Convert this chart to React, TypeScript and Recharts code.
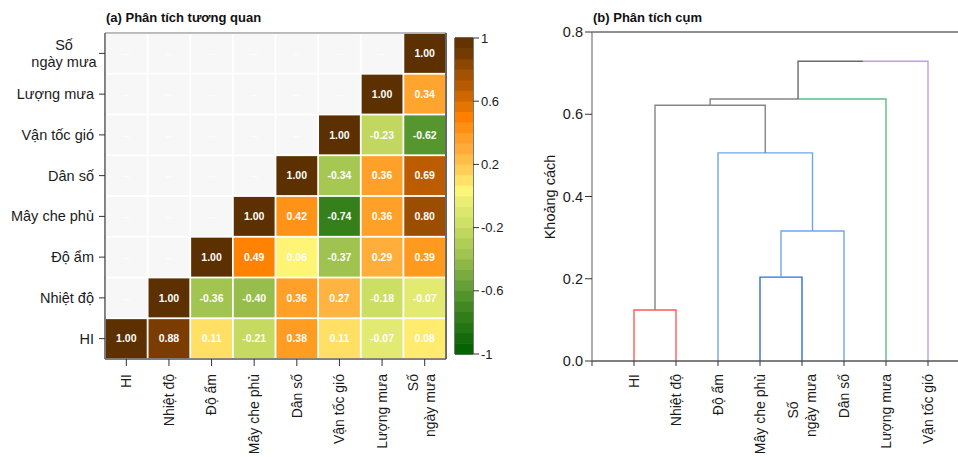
import React from "react";
import {
  ScatterChart,
  Scatter,
  LineChart,
  Line,
  XAxis,
  YAxis,
  ReferenceLine,
} from "recharts";

// variables, left -> right on x, bottom -> top on y
const variables = ["HI", "Nhiệt độ", "Độ ẩm", "Mây che phủ", "Dân số", "Vận tốc gió", "Lượng mưa", "Số\nngày mưa"];

// correlation rows (row = y variable, col = x variable); null = hidden half
const corHI = [1.0, 0.88, 0.11, -0.21, 0.38, 0.11, -0.07, 0.08];
const corNhietDo = [null, 1.0, -0.36, -0.4, 0.36, 0.27, -0.18, -0.07];
const corDoAm = [null, null, 1.0, 0.49, 0.06, -0.37, 0.29, 0.39];
const corMayChePhu = [null, null, null, 1.0, 0.42, -0.74, 0.36, 0.8];
const corDanSo = [null, null, null, null, 1.0, -0.34, 0.36, 0.69];
const corVanTocGio = [null, null, null, null, null, 1.0, -0.23, -0.62];
const corLuongMua = [null, null, null, null, null, null, 1.0, 0.34];
const corSoNgayMua = [null, null, null, null, null, null, null, 1.0];
const corRows = [corHI, corNhietDo, corDoAm, corMayChePhu, corDanSo, corVanTocGio, corLuongMua, corSoNgayMua];

const colorbarTicks = [-1, -0.6, -0.2, 0.2, 0.6, 1];

// dendrogram (hclust style: negative = leaf position, positive = merge number)
const leafLabels = ["HI", "Nhiệt độ", "Độ ẩm", "Mây che phủ", "Số\nngày mưa", "Dân số", "Lượng mưa", "Vận tốc gió"];
const mergeLeft = [-1, -4, 2, -3, 1, 5, 6];
const mergeRight = [-2, -5, -6, 3, 4, -7, -8];
const mergeHeight = [0.124, 0.204, 0.316, 0.506, 0.622, 0.637, 0.729];
const distanceTicks = [0, 0.2, 0.4, 0.6, 0.8];

// styles
const FONT = "'Liberation Sans', Arial, sans-serif";
const cmapStops: [number, string][] = [
  [-1, "#005e00"],
  [-0.74, "#36801c"],
  [-0.62, "#56962e"],
  [-0.37, "#a0c250"],
  [-0.2, "#c8dc62"],
  [-0.07, "#e2ea72"],
  [0.05, "#fff878"],
  [0.1, "#ffe266"],
  [0.2, "#ffc44e"],
  [0.3, "#ffab3a"],
  [0.38, "#ff9c22"],
  [0.5, "#ff8000"],
  [0.69, "#bb5c00"],
  [0.8, "#9c4e00"],
  [0.88, "#7a3c00"],
  [1, "#5c3000"],
];
const linkColorLeft = ["#ff5a5a", "#2d6fd6", "#6fa6ea", "#6fa6ea", "#858585", "#858585", "#6b6b6b"];
const linkColorRight = ["#ff5a5a", "#2d6fd6", "#6fa6ea", "#6fa6ea", "#858585", "#5cbf85", "#c39be9"];

function hexToRgb(h: string) {
  return [1, 3, 5].map((i) => parseInt(h.slice(i, i + 2), 16));
}
function cmap(v: number) {
  for (let i = 0; i < cmapStops.length - 1; i++) {
    const [a, ca] = cmapStops[i];
    const [b, cb] = cmapStops[i + 1];
    if (v >= a && v <= b) {
      const t = (v - a) / (b - a);
      const A = hexToRgb(ca);
      const B = hexToRgb(cb);
      const c = A.map((x, k) => Math.round(x + (B[k] - x) * t));
      return `rgb(${c[0]},${c[1]},${c[2]})`;
    }
  }
  return cmapStops[cmapStops.length - 1][1];
}

const cells = corRows.flatMap((row, r) => row.map((v, c) => ({ x: c + 1, y: r + 1, v })));

// colour bar: 30 equal bins from -1 to 1
const BINS = 30;
const colorbarBins = Array.from({ length: BINS }, (_, i) => {
  const mid = -1 + ((i + 0.5) * 2) / BINS;
  return { x: 0.5, y: mid, color: cmap(mid) };
});

// dendrogram geometry from the merge table
function nodeX(n: number): number {
  if (n < 0) return -n;
  return (nodeX(mergeLeft[n - 1]) + nodeX(mergeRight[n - 1])) / 2;
}
function nodeH(n: number): number {
  return n < 0 ? 0 : mergeHeight[n - 1];
}
const linkHalves = mergeHeight.flatMap((h, i) => {
  const l = mergeLeft[i];
  const r = mergeRight[i];
  const xl = nodeX(l);
  const xr = nodeX(r);
  const xm = (xl + xr) / 2;
  return [
    { key: `L${i}`, color: linkColorLeft[i], pts: [{ x: xl, y: nodeH(l) }, { x: xl, y: h }, { x: xm, y: h }] },
    { key: `R${i}`, color: linkColorRight[i], pts: [{ x: xm, y: h }, { x: xr, y: h }, { x: xr, y: nodeH(r) }] },
  ];
});

// layout
const PLOT_W = 341;
const PLOT_H = 326;
const cellW = PLOT_W / 8;
const cellH = PLOT_H / 8;
const BAR_W = 18;
const BAR_H = 316;

const CellShape = (props: any) => {
  const { cx, cy, payload } = props;
  const v = payload.v;
  const filled = v !== null && v !== undefined;
  return (
    <g>
      <rect
        x={cx - cellW / 2 + 0.9}
        y={cy - cellH / 2 + 0.9}
        width={cellW - 1.8}
        height={cellH - 1.8}
        fill={filled ? cmap(v) : "#f7f7f7"}
      />
      <text
        x={cx}
        y={cy}
        dy="0.35em"
        textAnchor="middle"
        fontSize={10.5}
        fontWeight="bold"
        fontFamily={FONT}
        fill={filled ? "#ffffff" : "#fdfdfd"}
      >
        {filled ? v.toFixed(2) : "--"}
      </text>
    </g>
  );
};

const BinShape = (props: any) => {
  const { cx, cy, payload } = props;
  const h = BAR_H / BINS;
  return <rect x={cx - BAR_W / 2} y={cy - h / 2 - 0.3} width={BAR_W} height={h + 0.6} fill={payload.color} />;
};

const HeatYTick = (props: any) => {
  const { x, y, payload } = props;
  const label = variables[payload.value - 1];
  if (!label) return null;
  const lines = label.split("\n");
  const common = { fontSize: 14.5, fontFamily: FONT, fill: "#1a1a1a" };
  if (lines.length === 1) {
    return (
      <text x={x - 3} y={y} dy="0.35em" textAnchor="end" {...common}>
        {label}
      </text>
    );
  }
  return (
    <g>
      <text x={x - 33} y={y - 8} dy="0.35em" textAnchor="middle" {...common}>
        {lines[0]}
      </text>
      <text x={x - 33} y={y + 9} dy="0.35em" textAnchor="middle" {...common}>
        {lines[1]}
      </text>
    </g>
  );
};

const HeatXTick = (props: any) => {
  const { x, y, payload } = props;
  const label = variables[payload.value - 1];
  if (!label) return null;
  const lines = label.split("\n");
  const common = { fontSize: 14, fontFamily: FONT, fill: "#1a1a1a", textAnchor: "end" as const };
  if (lines.length === 1) {
    return (
      <text transform={`translate(${x},${y + 6}) rotate(-90)`} dy="0.35em" {...common}>
        {label}
      </text>
    );
  }
  return (
    <g transform={`translate(${x},${y + 6}) rotate(-90)`}>
      <text x={0} y={-12} dy="0.35em" {...common}>
        {lines[0]}
      </text>
      <text x={0} y={5} dy="0.35em" {...common}>
        {lines[1]}
      </text>
    </g>
  );
};

const DendroXTick = (props: any) => {
  const { x, y, payload } = props;
  const label = leafLabels[payload.value - 1];
  if (!label) return null;
  const lines = label.split("\n");
  const common = { fontSize: 14, fontFamily: FONT, fill: "#1a1a1a" };
  if (lines.length === 1) {
    return (
      <text transform={`translate(${x},${y + 6}) rotate(-90)`} dy="0.35em" textAnchor="end" {...common}>
        {label}
      </text>
    );
  }
  return (
    <g transform={`translate(${x},${y + 6}) rotate(-90)`}>
      <text x={-36} y={-9} dy="0.35em" textAnchor="middle" {...common}>
        {lines[0]}
      </text>
      <text x={0} y={9} dy="0.35em" textAnchor="end" {...common}>
        {lines[1]}
      </text>
    </g>
  );
};

const axisStroke = "#555555";

export default function App() {
  return (
    <div
      style={{
        position: "absolute",
        left: 0,
        top: 0,
        width: 958,
        height: 457,
        overflow: "hidden",
        background: "#ffffff",
        fontFamily: FONT,
      }}
    >
      {/* (a) correlation heatmap */}
      <div style={{ position: "absolute", left: 0, top: 0 }}>
        <ScatterChart width={460} height={457} margin={{ top: 33, right: 14, left: 0, bottom: 0 }}>
          <XAxis
            type="number"
            dataKey="x"
            domain={[0.5, 8.5]}
            ticks={[1, 2, 3, 4, 5, 6, 7, 8]}
            height={98}
            tickSize={7}
            tick={<HeatXTick />}
            axisLine={{ stroke: axisStroke, strokeWidth: 1.5 }}
            tickLine={{ stroke: "#333" }}
            interval={0}
          />
          <YAxis
            type="number"
            dataKey="y"
            domain={[0.5, 8.5]}
            ticks={[1, 2, 3, 4, 5, 6, 7, 8]}
            width={105}
            tickSize={6}
            tick={<HeatYTick />}
            axisLine={{ stroke: axisStroke, strokeWidth: 1.5 }}
            tickLine={{ stroke: "#333" }}
            interval={0}
          />
          <Scatter data={cells} shape={<CellShape />} isAnimationActive={false} />
          <ReferenceLine y={8.5} stroke="#777" strokeWidth={1.2} />
          <ReferenceLine x={8.5} stroke="#333" strokeWidth={1.5} />
        </ScatterChart>
      </div>

      {/* colour bar */}
      <div style={{ position: "absolute", left: 440, top: 0 }}>
        <ScatterChart width={80} height={457} margin={{ top: 38, right: 0, left: 15, bottom: 0 }}>
          <XAxis type="number" dataKey="x" domain={[0, 1]} height={103} tick={false} axisLine={false} tickLine={false} />
          <YAxis
            type="number"
            dataKey="y"
            orientation="right"
            domain={[-1, 1]}
            ticks={colorbarTicks}
            width={47}
            tickSize={6}
            axisLine={false}
            tickLine={{ stroke: "#333" }}
            tickFormatter={(v: number) => String(v)}
            tick={{ fontSize: 13, fontFamily: FONT, fill: "#1a1a1a" }}
            interval={0}
          />
          <Scatter data={colorbarBins} shape={<BinShape />} isAnimationActive={false} />
          <ReferenceLine y={1} stroke="#222" strokeWidth={1.2} />
          <ReferenceLine y={-1} stroke="#222" strokeWidth={1.2} />
          <ReferenceLine x={0} stroke="#222" strokeWidth={1.2} />
          <ReferenceLine x={1} stroke="#222" strokeWidth={1.2} />
        </ScatterChart>
      </div>

      {/* (b) dendrogram */}
      <div style={{ position: "absolute", left: 500, top: 0 }}>
        <LineChart width={458} height={457} margin={{ top: 32, right: 0, left: 0, bottom: 0 }}>
          <XAxis
            type="number"
            dataKey="x"
            domain={[0, 366 / 42]}
            ticks={[0, 1, 2, 3, 4, 5, 6, 7, 8]}
            allowDataOverflow
            height={96}
            tickSize={5}
            tick={<DendroXTick />}
            axisLine={{ stroke: axisStroke, strokeWidth: 1.5 }}
            tickLine={{ stroke: "#333" }}
            interval={0}
          />
          <YAxis
            type="number"
            domain={[0, 0.8]}
            ticks={distanceTicks}
            width={92}
            tickSize={7}
            axisLine={{ stroke: "#777", strokeWidth: 1.2 }}
            tickLine={{ stroke: "#333" }}
            tickFormatter={(v: number) => v.toFixed(1)}
            tick={{ fontSize: 14.5, fontFamily: FONT, fill: "#1a1a1a" }}
            interval={0}
          />
          <ReferenceLine y={0.8} stroke="#222" strokeWidth={1.2} />
          {linkHalves.map((l) => (
            <Line
              key={l.key}
              data={l.pts}
              dataKey="y"
              type="linear"
              stroke={l.color}
              strokeWidth={1.4}
              dot={false}
              activeDot={false}
              isAnimationActive={false}
            />
          ))}
        </LineChart>
      </div>

      {/* titles and axis label */}
      <svg width={958} height={457} style={{ position: "absolute", left: 0, top: 0, pointerEvents: "none" }}>
        <text x={106} y={22} fontSize={13} fontWeight="bold" fontFamily={FONT} fill="#111">
          (a) Phân tích tương quan
        </text>
        <text x={593} y={22} fontSize={13} fontWeight="bold" fontFamily={FONT} fill="#111">
          (b) Phân tích cụm
        </text>
        <text
          transform="translate(550,197) rotate(-90)"
          textAnchor="middle"
          dy="0.35em"
          fontSize={14.5}
          fontFamily={FONT}
          fill="#1a1a1a"
        >
          Khoảng cách
        </text>
      </svg>
    </div>
  );
}
